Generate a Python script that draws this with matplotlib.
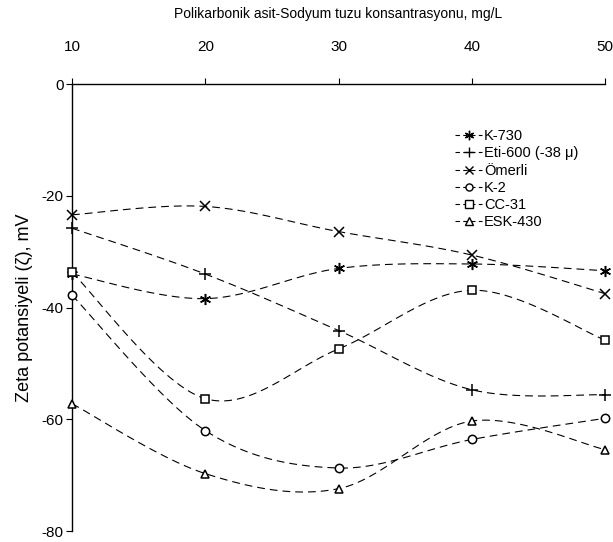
import numpy as np
import matplotlib
matplotlib.use("Agg")
import matplotlib.pyplot as plt
from matplotlib.lines import Line2D

plt.rcParams['font.family'] = ['Liberation Sans', 'DejaVu Sans']
plt.rcParams['axes.unicode_minus'] = False

conc = [10, 20, 30, 40, 50]
series_names = ["K-730", "Eti-600 (-38 μ)", "Ömerli", "K-2", "CC-31", "ESK-430"]
k730 = [-34.0, -38.4, -33.0, -32.2, -33.4]
eti600 = [-25.8, -34.0, -44.1, -54.7, -55.6]
omerli = [-23.4, -21.9, -26.4, -30.6, -37.5]
k2 = [-37.8, -62.0, -68.7, -63.6, -59.8]
cc31 = [-33.7, -56.3, -47.4, -36.9, -45.8]
esk430 = [-57.2, -69.7, -72.4, -60.3, -65.4]
x_ticks = [10, 20, 30, 40, 50]
y_ticks = [0, -20, -40, -60, -80]

series = [k730, eti600, omerli, k2, cc31, esk430]
markers = [(6, 2, 0), '+', 'x', 'o', 's', '^']
msizes = [8, 8, 7, 6, 6, 6]


def smooth(xs, ys, n=30):
    """Excel-style smoothed curve (Catmull-Rom Bezier)."""
    P = np.column_stack([xs, ys]).astype(float)
    out = []
    m = len(P)
    for i in range(m - 1):
        p0 = P[max(i - 1, 0)]
        p1 = P[i]
        p2 = P[i + 1]
        p3 = P[min(i + 2, m - 1)]
        c1 = p1 + (p2 - p0) / 6.0
        c2 = p2 - (p3 - p1) / 6.0
        t = np.linspace(0, 1, n)[:, None]
        seg = ((1 - t) ** 3) * p1 + 3 * ((1 - t) ** 2) * t * c1 + 3 * (1 - t) * t ** 2 * c2 + t ** 3 * p2
        if i > 0:
            seg = seg[1:]
        out.append(seg)
    return np.vstack(out)


fig = plt.figure(figsize=(6.13, 5.42), dpi=100)
ax = fig.add_axes([0.1175, 0.02, 0.8695, 0.825])

dash = (0, (7, 4.5))
handles = []
for name, vals, mk, ms in zip(series_names, series, markers, msizes):
    cur = smooth(conc, vals)
    ax.plot(cur[:, 0], cur[:, 1], color='black', lw=0.8, linestyle=dash, zorder=2)
    ax.plot(conc, vals, linestyle='none', marker=mk, markersize=ms,
            mfc='white', mec='black', mew=1.1, zorder=3, clip_on=False)
    handles.append(Line2D([], [], color='black', lw=0.8, linestyle=(0, (4, 3)),
                          marker=mk, markersize=ms * 0.85, mfc='white', mec='black', mew=1.0))

ax.set_xlim(10, 50)
ax.set_ylim(-80, 0)
ax.set_xticks(x_ticks)
ax.set_yticks(y_ticks)
ax.xaxis.tick_top()
ax.xaxis.set_label_position('top')
ax.spines['right'].set_visible(False)
ax.spines['bottom'].set_visible(False)
ax.spines['top'].set_linewidth(1.0)
ax.spines['left'].set_linewidth(1.0)
ax.tick_params(axis='x', direction='out', length=4, width=0.8, labelsize=11, pad=17.5)
ax.tick_params(axis='y', direction='out', length=4, width=0.8, labelsize=11, pad=2)

ax.set_xlabel("Polikarbonik asit-Sodyum tuzu konsantrasyonu, mg/L", fontsize=10, labelpad=16)
ax.set_ylabel("Zeta potansiyeli (ζ), mV", fontsize=13, labelpad=6)

leg = fig.legend(handles, series_names, loc='upper left',
                 bbox_to_anchor=(0.730, 0.775), frameon=False, fontsize=10.5,
                 handlelength=1.9, handletextpad=0.1, labelspacing=0.22, borderpad=0)

fig.savefig("out.png", dpi=100)
